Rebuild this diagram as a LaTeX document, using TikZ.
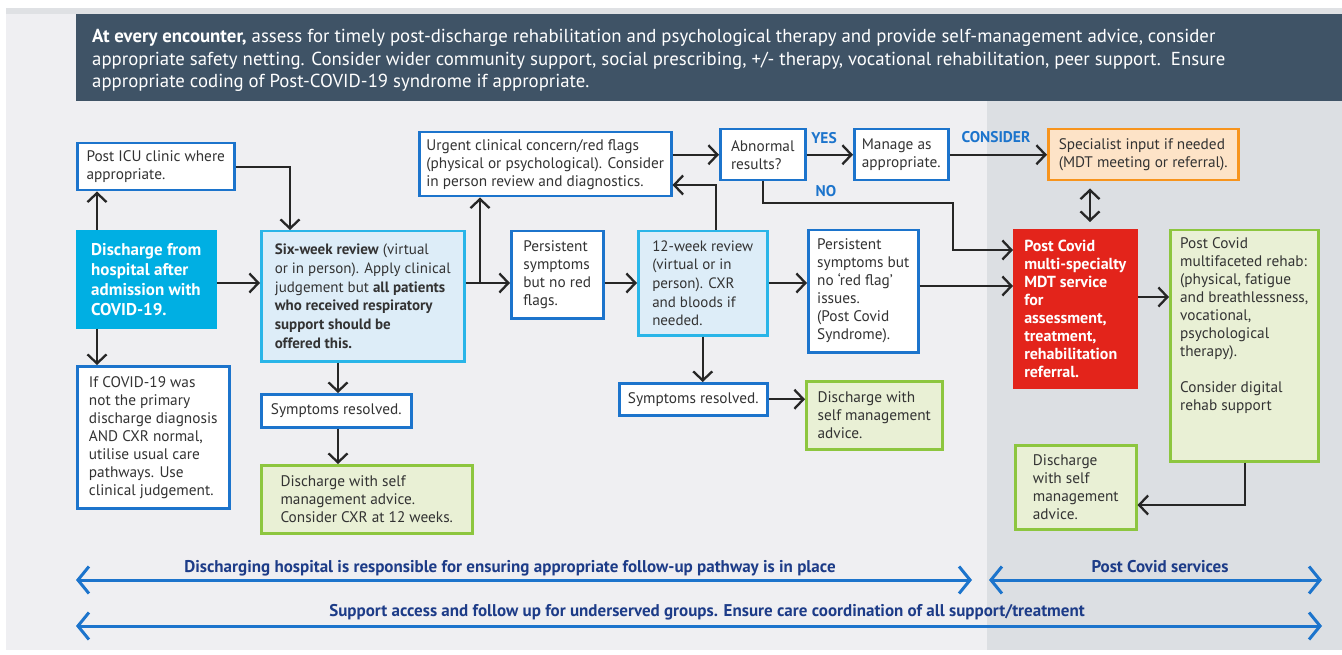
\documentclass[tikz,border=0pt]{standalone}
\usepackage{fontspec}
\setmainfont{PT Sans}
\usetikzlibrary{arrows.meta}
\definecolor{bglight}{HTML}{EFEFF2}
\definecolor{bgdark}{HTML}{DCDFE3}
\definecolor{band}{HTML}{DFE1E4}
\definecolor{banner}{HTML}{3F5366}
\definecolor{nblue}{HTML}{1C74CC}
\definecolor{ncyan}{HTML}{29B5E8}
\definecolor{cyanfill}{HTML}{00AFE3}
\definecolor{lbfill}{HTML}{DDEDF8}
\definecolor{ngreen}{HTML}{8DC63F}
\definecolor{gfill}{HTML}{E9F0D5}
\definecolor{norange}{HTML}{F7941D}
\definecolor{ofill}{HTML}{FDE3C7}
\definecolor{nred}{HTML}{E3241B}
\definecolor{arrowc}{HTML}{262626}
\definecolor{navy}{HTML}{1D3C88}
\definecolor{txt}{HTML}{333333}
\begin{document}
\begin{tikzpicture}[x=1pt,y=-1pt,
 box/.style={draw=nblue, line width=2.5pt, fill=white, align=left, anchor=north west, inner sep=3pt, text=txt, font=\fontsize{15.3}{18}\selectfont},
 revbox/.style={box, draw=ncyan, fill=lbfill, font=\fontsize{15}{18.6}\selectfont},
 gbox/.style={box, draw=ngreen, fill=gfill},
 obox/.style={box, draw=norange, fill=ofill},
 hbox/.style={box, draw=nred, fill=nred, text=white, font=\bfseries\fontsize{16}{18}\selectfont},
 cbox/.style={box, draw=cyanfill, fill=cyanfill, text=white, font=\bfseries\fontsize{17}{20}\selectfont},
 arr/.style={draw=arrowc, line width=2.3pt, -{Straight Barb[length=9pt,width=19pt]}},
 darr/.style={draw=arrowc, line width=2.3pt, {Straight Barb[length=9pt,width=19pt]}-{Straight Barb[length=9pt,width=19pt]}},
 barr/.style={draw=nblue, line width=3pt, {Straight Barb[length=11pt,width=27pt]}-{Straight Barb[length=11pt,width=27pt]}},
 lbl/.style={text=nblue, font=\bfseries\fontsize{15.5}{17}\selectfont, inner sep=0pt},
 blbl/.style={text=navy, font=\bfseries\fontsize{17}{19}\selectfont, inner sep=0pt}]
\useasboundingbox (0,0) rectangle (1342,655);
\fill[white] (0,0) rectangle (1342,655);
\fill[bglight] (6,8) rectangle (1342,650);
\fill[band] (6,8) rectangle (1342,14);
\fill[banner] (76,14) rectangle (1342,101);
\fill[bgdark] (987,101) rectangle (1342,650);

\node[anchor=north west, inner sep=0pt, text=white, align=left, font=\fontsize{18.8}{22.5}\selectfont] (bannertext) at (92,29)
 {\textbf{At every encounter,} assess for timely post-discharge rehabilitation and psychological therapy and provide self-management advice, consider\\
 appropriate safety netting. Consider wider community support, social prescribing, +/- therapy, vocational rehabilitation, peer support.~~Ensure\\
 appropriate coding of Post-COVID-19 syndrome if appropriate.};

% boxes
\node[box, minimum width=157pt, minimum height=47pt] (icu) at (76,142) {Post ICU clinic where\\appropriate.};
\node[cbox, minimum width=138pt, minimum height=96pt] (dis) at (76,230) {Discharge from\\hospital after\\admission with\\COVID-19.};
\node[box, minimum width=152pt, minimum height=142pt] (ifc) at (76,365) {If COVID-19 was\\not the primary\\discharge diagnosis\\AND CXR normal,\\utilise usual care\\pathways. Use\\clinical judgement.};
\node[revbox, minimum width=203pt, minimum height=130pt] (six) at (260,230) {\textbf{Six-week review} (virtual\\or in person). Apply clinical\\judgement but \textbf{all patients}\\\textbf{who received respiratory}\\\textbf{support should be}\\\textbf{offered this.}};
\node[box, minimum width=150pt, minimum height=33pt] (sr1) at (260,393) {Symptoms resolved.};
\node[gbox, minimum width=211pt, minimum height=68pt] (dg1) at (260,464) {Discharge with self\\management advice.\\Consider CXR at 12 weeks.};
\node[box, minimum width=252pt, minimum height=64pt] (urg) at (418,131) {Urgent clinical concern/red flags\\(physical or psychological). Consider\\in person review and diagnostics.};
\node[box, minimum width=85pt, minimum height=51pt] (abn) at (719,128) {Abnormal\\results?};
\node[box, minimum width=94pt, minimum height=51pt] (man) at (853,128) {Manage as\\appropriate.};
\node[obox, minimum width=190pt, minimum height=51pt] (spec) at (1047,128) {Specialist input if needed\\(MDT meeting or referral).};
\node[box, minimum width=92pt, minimum height=87pt] (per1) at (510,230) {Persistent\\symptoms\\but no red\\flags.};
\node[revbox, minimum width=129pt, minimum height=104pt] (w12) at (637,230) {12-week review\\(virtual or in\\person). CXR\\and bloods if\\needed.};
\node[box, minimum width=148pt, minimum height=32pt] (sr2) at (618,382) {Symptoms resolved.};
\node[gbox, minimum width=136pt, minimum height=68pt] (dg2) at (805,380) {Discharge with\\self management\\advice.};
\node[box, minimum width=110pt, minimum height=122pt] (per2) at (807,229) {Persistent\\symptoms but\\no ‘red flag’\\issues.\\(Post Covid\\Syndrome).};
\node[hbox, minimum width=122pt, minimum height=157pt] (mdt) at (1013,229) {Post Covid\\multi-specialty\\MDT service\\for\\assessment,\\treatment,\\rehabilitation\\referral.};
\node[gbox, minimum width=148pt, minimum height=231pt] (reh) at (1169,229) {Post Covid\\multifaceted rehab:\\(physical, fatigue\\and breathlessness,\\vocational,\\psychological\\therapy).\\[18pt]Consider digital\\rehab support\\[26pt]\mbox{}};
\node[gbox, minimum width=121pt, minimum height=84pt] (dg3) at (1014,444) {Discharge\\with self\\management\\advice.};

% helper coordinates
\coordinate (x97) at (97,0);
\coordinate (x290) at (290,0);
\coordinate (x338) at (338,0);
\coordinate (x480) at (480,0);
\coordinate (x716) at (716,0);
\coordinate (x953) at (953,0);
\coordinate (x1090) at (1090,0);
\coordinate (x1245) at (1245,0);
\coordinate (y283) at (0,283);
\coordinate (y185) at (0,185);
\coordinate (y203) at (0,203);
\coordinate (y250) at (0,250);
\coordinate (y286) at (0,286);
\coordinate (y297) at (0,297);
\coordinate (y505) at (0,505);

% connectors
\draw[arr] (dis.north -| x97) -- (icu.south -| x97);
\draw[arr] (dis.south -| x97) -- (ifc.north -| x97);
\draw[arr] (dis.east |- y283) -- (six.west |- y283);
\draw[arr] (icu.east) -| (six.north -| x290);
\draw[arr] (six.east |- y283) -- (per1.west |- y283);
\draw[arr] (x480 |- y283) -- (urg.south -| x480);
\draw[arr] (six.south -| x338) -- (sr1.north -| x338);
\draw[arr] (sr1.south -| x338) -- (dg1.north -| x338);
\draw[arr] (per1.east |- y283) -- (w12.west |- y283);
\draw[arr] (w12.east |- y283) -- (per2.west |- y283);
\draw[arr] (w12.north -| x716) |- (urg.east |- y185);
\draw[arr] (w12.south) -- (w12.south |- sr2.north);
\draw[arr] (sr2.east) -- (sr2.east -| dg2.west);
\draw[arr] (urg.east |- abn.west) -- (abn.west);
\draw[arr] (abn.east) -- (man.west);
\draw[arr] (man.east) -- (spec.west);
\draw[arr] (abn.south) |- (x953 |- y203) |- (mdt.west |- y250);
\draw[arr] (per2.east |- y286) -- (mdt.west |- y286);
\draw[darr, shorten <=7pt, shorten >=7pt] (spec.south -| x1090) -- (mdt.north -| x1090);
\draw[arr] (mdt.east |- y297) -- (reh.west |- y297);
\draw[arr] (reh.south -| x1245) |- (dg3.east |- y505);

\node[lbl] (yes) at (824,138) {YES};
\node[lbl] (no) at (826,191) {NO};
\node[lbl] (cons) at (996,137) {CONSIDER};

% bottom arrows
\coordinate (a1) at (76,580);
\coordinate (a2) at (972,580);
\coordinate (a3) at (989,580);
\coordinate (a4) at (1322,580);
\coordinate (a5) at (76,626);
\coordinate (a6) at (1322,626);
\draw[barr] (a1) -- (a2);
\draw[barr] (a3) -- (a4);
\draw[barr] (a5) -- (a6);
\node[blbl] (t1) at (510,568) {Discharging hospital is responsible for ensuring appropriate follow-up pathway is in place};
\node[blbl] (t2) at (1160,567) {Post Covid services};
\node[blbl] (t3) at (707,612) {Support access and follow up for underserved groups. Ensure care coordination of all support/treatment};
\end{tikzpicture}
\end{document}
